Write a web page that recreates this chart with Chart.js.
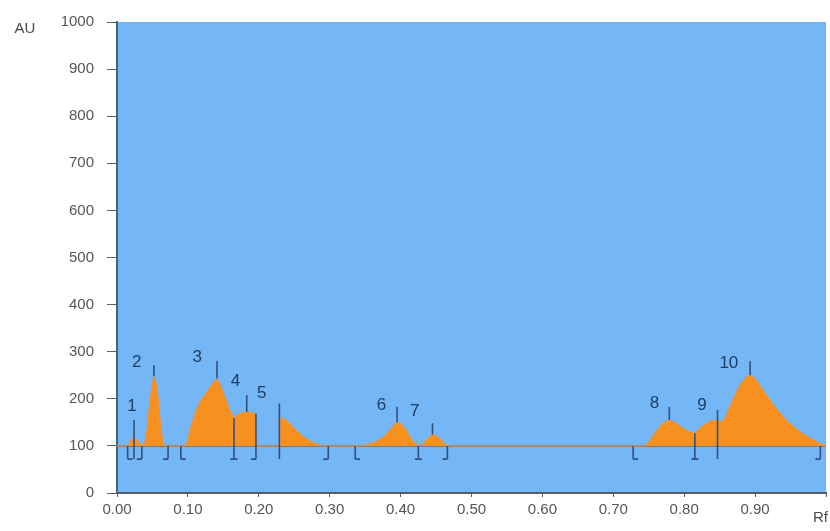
<!DOCTYPE html>
<html>
<head>
<meta charset="utf-8">
<script src="https://cdn.jsdelivr.net/npm/chart.js@4.4.1/dist/chart.umd.min.js"></script>
<style>
  html, body { margin: 0; padding: 0; background: #fff; }
</style>
</head>
<body>
<canvas id="canvas1" width="830" height="531"></canvas>
<script>
// densitogram profile (Rf vs AU)
var rf = [0.000, 0.015, 0.020, 0.024, 0.030, 0.035, 0.039, 0.042, 0.046, 0.049, 0.052, 0.056, 0.059, 0.062, 0.065, 0.068,
  0.097, 0.100, 0.105, 0.110, 0.116, 0.121, 0.126, 0.131, 0.136, 0.141, 0.146, 0.152, 0.158, 0.165, 0.170, 0.176, 0.183, 0.190, 0.195, 0.197,
  0.229, 0.231, 0.236, 0.242, 0.250, 0.258, 0.266, 0.275, 0.283, 0.292,
  0.345, 0.355, 0.365, 0.375, 0.383, 0.390, 0.395, 0.400, 0.405, 0.410, 0.416, 0.422, 0.428,
  0.432, 0.438, 0.445, 0.452, 0.458, 0.465, 0.470,
  0.745, 0.752, 0.760, 0.768, 0.774, 0.779, 0.786, 0.793, 0.800, 0.808, 0.815,
  0.822, 0.830, 0.838, 0.845, 0.852, 0.858, 0.865, 0.872, 0.880, 0.887, 0.893, 0.900, 0.907, 0.914, 0.920, 0.928,
  0.938, 0.947, 0.957, 0.966, 0.975, 0.983, 0.990, 0.996, 1.000];
var au = [100, 100, 112, 118, 110, 102, 104, 130, 186, 225, 248, 228, 186, 136, 106, 100,
  100, 115, 145, 168, 190, 203, 212, 224, 234, 243, 228, 205, 180, 159, 166, 170, 172, 170, 168, 100,
  100, 160, 157, 150, 138, 126, 116, 108, 103, 100,
  100, 104, 109, 118, 130, 143, 150, 147, 140, 128, 112, 103, 100,
  103, 115, 124, 120, 110, 101, 100,
  100, 112, 130, 145, 152, 155, 150, 143, 136, 130, 127,
  138, 147, 153, 155, 150, 160, 185, 210, 232, 245, 250, 243, 228, 212, 200, 183,
  165, 150, 138, 127, 119, 112, 106, 102, 100];

var baselineAu = 100;

// peak numbers and where they are written
var peakNames = ['1', '2', '3', '4', '5', '6', '7', '8', '9', '10'];
var peakLabelRf = [0.021, 0.028, 0.113, 0.167, 0.204, 0.373, 0.420, 0.758, 0.825, 0.863];
var peakLabelAu = [183, 278, 289, 238, 211, 186, 174, 190, 186, 275];

// peak maximum markers
var markRf = [0.024, 0.052, 0.141, 0.183, 0.229, 0.395, 0.445, 0.779, 0.847, 0.893];
var markFrom = [72, 248, 243, 172, 72, 150, 124, 155, 72, 250];
var markTo = [155, 271, 280, 208, 190, 183, 148, 183, 176, 280];

// integration borders (foot: 1 right, -1 left, 0 both)
var edgeRf = [0.015, 0.035, 0.072, 0.090, 0.165, 0.196, 0.298, 0.336, 0.425, 0.466, 0.728, 0.815, 0.992];
var edgeTop = [100, 100, 100, 100, 159, 168, 100, 100, 100, 100, 100, 127, 100];
var edgeFoot = [1, -1, -1, 1, 0, -1, -1, 1, 0, -1, 1, 0, -1];
var edgeLow = 72;

var xTickLabels = ['0.00', '0.10', '0.20', '0.30', '0.40', '0.50', '0.60', '0.70', '0.80', '0.90'];

var profile = rf.map(function (r, i) { return { x: r, y: au[i] }; });

var segs = [];
for (var i = 0; i < markRf.length; i++) {
  segs.push({ x: markRf[i], y: markFrom[i] }, { x: markRf[i], y: markTo[i] }, { x: markRf[i], y: null });
}
for (var j = 0; j < edgeRf.length; j++) {
  var e = edgeRf[j];
  segs.push({ x: e, y: edgeTop[j] }, { x: e, y: edgeLow }, { x: e, y: null });
  var a = edgeFoot[j] === 0 ? e - 0.005 : e;
  var b = edgeFoot[j] === 0 ? e + 0.005 : e + edgeFoot[j] * 0.007;
  segs.push({ x: a, y: edgeLow }, { x: b, y: edgeLow }, { x: b, y: null });
}

var plotBg = {
  id: 'plotBg',
  beforeDraw: function (chart) {
    var c = chart.ctx, ca = chart.chartArea;
    c.save();
    c.fillStyle = '#74b6f6';
    c.fillRect(ca.left, ca.top, ca.right - ca.left, ca.bottom - ca.top);
    c.restore();
  },
  afterDraw: function (chart) {
    var c = chart.ctx, xs = chart.scales.x, ys = chart.scales.y;
    c.save();
    c.fillStyle = '#1f3c63';
    c.font = '17px "Liberation Sans", Arial, sans-serif';
    c.textAlign = 'center';
    c.textBaseline = 'middle';
    for (var k = 0; k < peakNames.length; k++) {
      c.fillText(peakNames[k], xs.getPixelForValue(peakLabelRf[k]), ys.getPixelForValue(peakLabelAu[k]));
    }
    c.fillStyle = '#4a4a4a';
    c.font = '15px "Liberation Sans", Arial, sans-serif';
    c.fillText('AU', 25, 29);
    c.textAlign = 'left';
    c.fillText('Rf', 813, 518);
    c.restore();
  }
};

new Chart(document.getElementById('canvas1'), {
  type: 'line',
  data: {
    datasets: [
      {
        data: segs,
        borderColor: '#34507f',
        borderWidth: 1.6,
        pointRadius: 0,
        spanGaps: false,
        fill: false
      },
      {
        data: profile,
        borderColor: '#f39230',
        backgroundColor: '#f7901e',
        borderWidth: 1,
        pointRadius: 0,
        tension: 0,
        fill: { value: baselineAu }
      },
      {
        data: [{ x: 0, y: baselineAu }, { x: 1, y: baselineAu }],
        borderColor: '#66809a',
        borderWidth: 2,
        pointRadius: 0,
        fill: false
      }
    ]
  },
  options: {
    responsive: false,
    animation: false,
    layout: { padding: { top: 21, right: 0, left: 0, bottom: 0 } },
    plugins: { legend: { display: false }, tooltip: { enabled: false } },
    events: [],
    scales: {
      x: {
        type: 'linear',
        min: 0,
        max: 1,
        afterFit: function (s) { s.height = 38; },
        border: { color: '#555d66', width: 2 },
        grid: { drawOnChartArea: false, drawTicks: true, tickLength: 4, color: '#555d66' },
        ticks: {
          stepSize: 0.1,
          autoSkip: false,
          maxRotation: 0,
          padding: 4,
          color: '#555',
          font: { size: 15, family: '"Liberation Sans", Arial, sans-serif' },
          callback: function (v) {
            var idx = Math.round(v * 10);
            return idx < xTickLabels.length ? xTickLabels[idx] : '';
          }
        }
      },
      y: {
        min: 0,
        max: 1000,
        afterFit: function (s) { s.width = 117; },
        border: { color: '#4c6275', width: 2 },
        grid: { drawOnChartArea: false, drawTicks: true, tickLength: 10, color: '#555d66' },
        ticks: {
          stepSize: 100,
          padding: 13,
          color: '#555',
          font: { size: 15, family: '"Liberation Sans", Arial, sans-serif' },
          callback: function (v) { return String(v); }
        }
      }
    }
  },
  plugins: [plotBg]
});
</script>
</body>
</html>
